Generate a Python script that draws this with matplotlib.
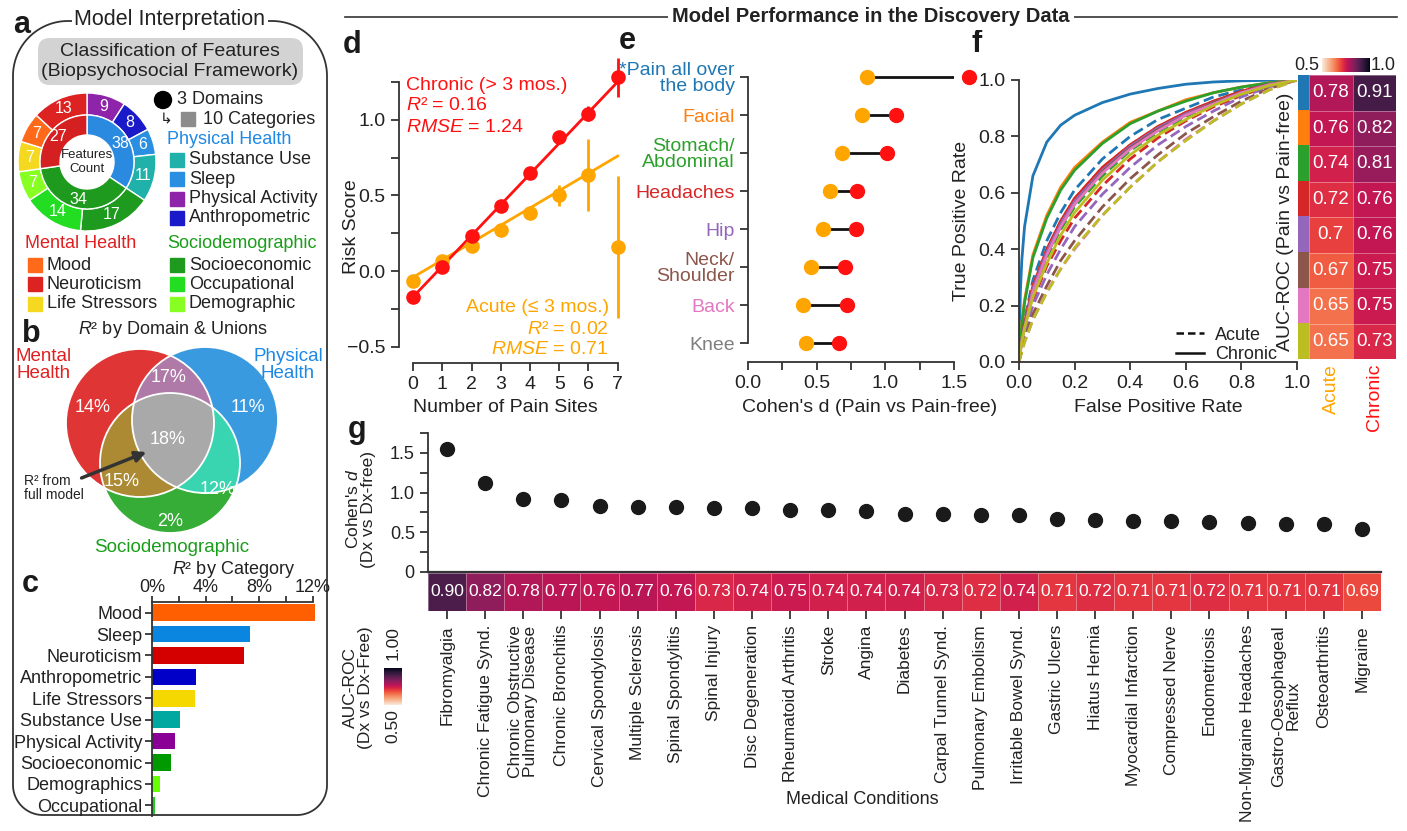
import numpy as np
import matplotlib
matplotlib.use('Agg')
import matplotlib.pyplot as plt
import seaborn as sns
from matplotlib import font_manager
from matplotlib.patches import Circle, Rectangle, FancyBboxPatch, Polygon
from matplotlib.lines import Line2D
from matplotlib.colors import Normalize, ListedColormap
from matplotlib.cm import ScalarMappable
from matplotlib.ticker import MultipleLocator

plt.rcParams['font.family'] = ['Liberation Sans', 'DejaVu Sans']
plt.rcParams['mathtext.fontset'] = 'custom'
plt.rcParams['mathtext.rm'] = 'Liberation Sans'
plt.rcParams['mathtext.it'] = 'Liberation Sans:italic'
plt.rcParams['mathtext.bf'] = 'Liberation Sans:bold'
plt.rcParams['axes.facecolor'] = 'none'
plt.rcParams['axes.edgecolor'] = '#333333'
plt.rcParams['axes.linewidth'] = 1.3
for k in ['text.color', 'axes.labelcolor', 'xtick.color', 'ytick.color']:
    plt.rcParams[k] = '#222222'
for k in ['xtick', 'ytick']:
    plt.rcParams[k + '.major.size'] = 6
    plt.rcParams[k + '.minor.size'] = 6
    plt.rcParams[k + '.major.width'] = 1.2
    plt.rcParams[k + '.minor.width'] = 1.2

# ---------------- data ----------------
# a: feature counts (outer ring clockwise from 12 o'clock)
cat_ring_names = ['Physical Activity', 'Anthropometric', 'Sleep', 'Substance Use',
                  'Socioeconomic', 'Occupational', 'Demographic',
                  'Life Stressors', 'Mood', 'Neuroticism']
cat_ring_counts = [9, 8, 6, 11, 17, 14, 7, 7, 7, 13]
cat_ring_domain = [0, 0, 0, 0, 1, 1, 1, 2, 2, 2]
domain_names = ['Physical Health', 'Sociodemographic', 'Mental Health']
domain_count_labels = ['38', '34', '27']

# b: R2 by domain and unions (%)
venn_regions = ['M', 'P', 'S', 'MP', 'MS', 'PS', 'MPS']
venn_values = [14, 11, 2, 17, 15, 12, 18]

# c: R2 by category (%)
cat_names = ['Mood', 'Sleep', 'Neuroticism', 'Anthropometric', 'Life Stressors',
             'Substance Use', 'Physical Activity', 'Socioeconomic', 'Demographics',
             'Occupational']
cat_r2 = [12.17, 7.28, 6.88, 3.30, 3.20, 2.11, 1.69, 1.42, 0.62, 0.20]

# d: risk score by number of pain sites
sites = [0, 1, 2, 3, 4, 5, 6, 7]
chronic_mean = [-0.17, 0.03, 0.23, 0.43, 0.65, 0.885, 1.04, 1.28]
chronic_err = [0.02, 0.02, 0.02, 0.02, 0.02, 0.025, 0.05, 0.13]
acute_mean = [-0.065, 0.065, 0.165, 0.275, 0.385, 0.50, 0.635, 0.16]
acute_err = [0.02, 0.02, 0.02, 0.02, 0.03, 0.067, 0.235, 0.47]
chronic_fit = [-0.17, 1.25]
acute_fit = [-0.04, 0.76]

# e: Cohen's d by pain site
site_names = ['*Pain all over\nthe body', 'Facial', 'Stomach/\nAbdominal', 'Headaches',
              'Hip', 'Neck/\nShoulder', 'Back', 'Knee']
site_label_colors = ['#1f77b4', '#ff7f0e', '#2ca02c', '#d62728', '#9467bd',
                     '#8c564b', '#e377c2', '#7f7f7f']
site_d_acute = [0.865, 0.827, 0.687, 0.598, 0.549, 0.457, 0.397, 0.419]
site_d_chronic = [1.606, 1.077, 1.009, 0.791, 0.789, 0.709, 0.719, 0.665]

# f: ROC curves and AUCs
roc_colors = ['#1f77b4', '#ff7f0e', '#2ca02c', '#d62728', '#9467bd',
              '#8c564b', '#e377c2', '#bcbd22']
roc_fpr = [0, 0.005, 0.01, 0.02, 0.05, 0.1, 0.15, 0.2, 0.3, 0.4, 0.5, 0.6, 0.7, 0.8, 0.9, 1.0]
roc_chronic = [
    [0, 0.25, 0.36, 0.48, 0.66, 0.78, 0.84, 0.875, 0.92, 0.95, 0.97, 0.985, 0.993, 0.997, 0.999, 1],
    [0, 0.08, 0.14, 0.22, 0.38, 0.52, 0.62, 0.69, 0.78, 0.85, 0.89, 0.93, 0.955, 0.975, 0.99, 1],
    [0, 0.08, 0.13, 0.21, 0.37, 0.51, 0.61, 0.68, 0.775, 0.845, 0.89, 0.925, 0.955, 0.975, 0.99, 1],
    [0, 0.05, 0.08, 0.14, 0.27, 0.40, 0.50, 0.58, 0.69, 0.77, 0.835, 0.885, 0.925, 0.96, 0.985, 1],
    [0, 0.04, 0.08, 0.13, 0.26, 0.39, 0.49, 0.57, 0.68, 0.765, 0.83, 0.88, 0.92, 0.955, 0.985, 1],
    [0, 0.04, 0.07, 0.13, 0.25, 0.38, 0.48, 0.56, 0.675, 0.76, 0.825, 0.875, 0.92, 0.955, 0.983, 1],
    [0, 0.04, 0.07, 0.12, 0.25, 0.38, 0.48, 0.56, 0.67, 0.755, 0.82, 0.875, 0.915, 0.955, 0.983, 1],
    [0, 0.04, 0.07, 0.12, 0.23, 0.35, 0.45, 0.53, 0.645, 0.735, 0.805, 0.86, 0.91, 0.95, 0.98, 1],
]
roc_acute = [
    [0, 0.05, 0.09, 0.15, 0.29, 0.43, 0.53, 0.61, 0.72, 0.80, 0.86, 0.90, 0.94, 0.965, 0.988, 1],
    [0, 0.05, 0.08, 0.14, 0.27, 0.40, 0.50, 0.58, 0.69, 0.77, 0.835, 0.885, 0.925, 0.96, 0.985, 1],
    [0, 0.04, 0.07, 0.13, 0.25, 0.37, 0.47, 0.55, 0.66, 0.75, 0.815, 0.87, 0.915, 0.95, 0.98, 1],
    [0, 0.03, 0.06, 0.11, 0.22, 0.34, 0.43, 0.51, 0.625, 0.72, 0.795, 0.855, 0.905, 0.945, 0.978, 1],
    [0, 0.03, 0.05, 0.10, 0.20, 0.31, 0.40, 0.48, 0.595, 0.69, 0.77, 0.835, 0.89, 0.94, 0.975, 1],
    [0, 0.02, 0.04, 0.08, 0.17, 0.27, 0.36, 0.43, 0.55, 0.65, 0.735, 0.81, 0.87, 0.925, 0.97, 1],
    [0, 0.02, 0.04, 0.07, 0.15, 0.25, 0.33, 0.40, 0.52, 0.62, 0.71, 0.79, 0.855, 0.915, 0.965, 1],
    [0, 0.02, 0.035, 0.07, 0.15, 0.245, 0.33, 0.405, 0.52, 0.62, 0.71, 0.785, 0.855, 0.915, 0.965, 1],
]
auc_acute = [0.78, 0.76, 0.74, 0.72, 0.70, 0.67, 0.65, 0.65]
auc_chronic = [0.91, 0.82, 0.81, 0.76, 0.76, 0.75, 0.75, 0.73]

# g: medical conditions
cond_names = ['Fibromyalgia', 'Chronic Fatigue Synd.', 'Chronic Obstructive\nPulmonary Disease',
              'Chronic Bronchitis', 'Cervical Spondylosis', 'Multiple Sclerosis',
              'Spinal Spondylitis', 'Spinal Injury', 'Disc Degeneration',
              'Rheumatoid Arthritis', 'Stroke', 'Angina', 'Diabetes', 'Carpal Tunnel Synd.',
              'Pulmonary Embolism', 'Irritable Bowel Synd.', 'Gastric Ulcers', 'Hiatus Hernia',
              'Myocardial Infarction', 'Compressed Nerve', 'Endometriosis',
              'Non-Migraine Headaches', 'Gastro-Oesophageal\nReflux', 'Osteoarthritis', 'Migraine']
cond_d = [1.545, 1.12, 0.915, 0.907, 0.831, 0.815, 0.815, 0.81, 0.802, 0.78, 0.777, 0.764,
          0.735, 0.73, 0.714, 0.714, 0.667, 0.655, 0.646, 0.638, 0.634, 0.621, 0.609, 0.609, 0.546]
cond_auc = [0.90, 0.82, 0.78, 0.77, 0.76, 0.77, 0.76, 0.73, 0.74, 0.75, 0.74, 0.74, 0.74,
            0.73, 0.72, 0.74, 0.71, 0.72, 0.71, 0.71, 0.72, 0.71, 0.71, 0.71, 0.69]

# ---------------- styles ----------------
cat_colors = {'Mood': '#ff5f00', 'Sleep': '#0a85e0', 'Neuroticism': '#d40000',
              'Anthropometric': '#0000c8', 'Life Stressors': '#f5d800',
              'Substance Use': '#00a8a0', 'Physical Activity': '#8a0096',
              'Socioeconomic': '#009a00', 'Demographics': '#66ff00', 'Demographic': '#88ff22',
              'Occupational': '#22cc22'}
ring_colors = {'Physical Activity': '#8e24aa', 'Anthropometric': '#1a1ac8', 'Sleep': '#2a8fe0',
               'Substance Use': '#20b2aa', 'Socioeconomic': '#1e9a1e', 'Occupational': '#22dd22',
               'Demographic': '#88ff22', 'Life Stressors': '#f5d820', 'Mood': '#ff6a1a',
               'Neuroticism': '#dd2222'}
domain_colors = ['#2a8ae0', '#1e9a1e', '#d42020']
domain_text_colors = ['#1e88e5', '#1a9e1a', '#e02020']
RED = '#ff1111'
ORANGE = '#ffa500'
rocket = sns.color_palette('rocket_r', as_cmap=True)

names = {f.name for f in font_manager.fontManager.ttflist}
narrow = 'Liberation Sans Narrow' in names

W, H = 1407, 831
fig = plt.figure(figsize=(W / 100, H / 100), dpi=100)


def px_axes(x0, y0, x1, y1):
    return fig.add_axes([x0 / W, 1 - y1 / H, (x1 - x0) / W, (y1 - y0) / H])


ov = px_axes(0, 0, W, H)
ov.set_xlim(0, W)
ov.set_ylim(H, 0)
ov.axis('off')

# panel letters
for lab, x, y in [('a', 13, 33), ('b', 22, 342), ('c', 22, 592), ('d', 343, 53),
                  ('e', 619, 49), ('f', 972, 52), ('g', 348, 438)]:
    ov.text(x, y, lab, fontsize=22, fontweight='bold', va='baseline', ha='left', color='#1a1a1a')

# ---------- panel a frame ----------
def rounded_outline(x0, y0, x1, y1, rt, rb):
    pts = []
    for cx, cy, r, a0 in [(x1 - rt, y0 + rt, rt, 270), (x1 - rb, y1 - rb, rb, 0),
                          (x0 + rb, y1 - rb, rb, 90), (x0 + rt, y0 + rt, rt, 180)]:
        t = np.radians(np.linspace(a0, a0 + 90, 40))
        pts.append(np.column_stack([cx + r * np.cos(t), cy + r * np.sin(t)]))
    return Polygon(np.vstack(pts), closed=True, fill=False, edgecolor='#333333', lw=1.3)


ov.add_patch(rounded_outline(13, 21, 327, 815, 55, 30))
ov.text(170, 20, 'Model Interpretation', fontsize=15.5, ha='center', va='center',
        bbox=dict(facecolor='white', edgecolor='none', pad=2))
ov.add_patch(FancyBboxPatch((38, 38), 265, 47, boxstyle='round,pad=0,rounding_size=12',
                            facecolor='#d3d3d3', edgecolor='none'))
ov.text(170, 52, 'Classification of Features', fontsize=14, ha='center', va='center')
ov.text(170, 71, '(Biopsychosocial Framework)', fontsize=14, ha='center', va='center')

# donut
axa = px_axes(87 - 74, 162 - 74, 87 + 74, 162 + 74)
R_OUT, R_MID, R_IN = 1.0, 47 / 69, 27 / 69
w_out, _ = axa.pie(cat_ring_counts, radius=R_OUT, startangle=90, counterclock=False,
                   colors=[ring_colors[n] for n in cat_ring_names],
                   wedgeprops=dict(width=R_OUT - R_MID, edgecolor='white', linewidth=1))
domain_sizes = [sum(c for c, d in zip(cat_ring_counts, cat_ring_domain) if d == i) for i in range(3)]
w_in, _ = axa.pie(domain_sizes, radius=R_MID, startangle=90, counterclock=False,
                  colors=domain_colors,
                  wedgeprops=dict(width=R_MID - R_IN, edgecolor='white', linewidth=1))
for w, c in zip(w_out, cat_ring_counts):
    a = np.radians((w.theta1 + w.theta2) / 2)
    rr = (R_OUT + R_MID) / 2
    axa.text(rr * np.cos(a), rr * np.sin(a), str(c), color='white', fontsize=11.5,
             ha='center', va='center')
for w, lab in zip(w_in, domain_count_labels):
    a = np.radians((w.theta1 + w.theta2) / 2)
    rr = (R_MID + R_IN) / 2 + 0.02
    axa.text(rr * np.cos(a), rr * np.sin(a), lab, color='white', fontsize=11.5,
             ha='center', va='center')
axa.text(0, 0, 'Features\nCount', fontsize=9.5, ha='center', va='center', linespacing=1.3)
axa.set_xlim(-74 / 69, 74 / 69)
axa.set_ylim(-74 / 69, 74 / 69)
axa.set_aspect('equal')
axa.axis('off')

# legend of domains / categories
ov.add_patch(Circle((163, 100), 8.5, color='black'))
ov.text(177, 100, '3 Domains', fontsize=13, va='center')
ov.text(160, 119, '\u21b3', fontsize=11, va='center', family=['DejaVu Sans'])
ov.add_patch(Rectangle((181, 112), 14, 14, color='#8c8c8c'))
ov.text(203, 119, '10 Categories', fontsize=13, va='center')
legend_blocks = [(167, 139, 0, ['Substance Use', 'Sleep', 'Physical Activity', 'Anthropometric']),
                 (25, 244, 2, ['Mood', 'Neuroticism', 'Life Stressors']),
                 (167, 244, 1, ['Socioeconomic', 'Occupational', 'Demographic'])]
for x, y, di, items in legend_blocks:
    ov.text(x, y, domain_names[di], fontsize=13, va='center', color=domain_text_colors[di])
    for k, nm in enumerate(items):
        yy = y + 21 + k * 19.3
        ov.add_patch(Rectangle((x + 3, yy - 7), 14, 14, color=ring_colors[nm]))
        ov.text(x + 22, yy, nm, fontsize=13, va='center')

# ---------- panel b: venn ----------
ov.text(173, 329, r'$R$² by Domain & Unions', fontsize=13, ha='center', va='center')
venn_circles = [(140, 423, 74), (205, 420, 73), (170, 463, 70)]   # M, P, S
venn_colors = {'M': '#e03535', 'P': '#3a9ae0', 'S': '#36ad36', 'MP': '#b07aa8',
               'MS': '#ab8a33', 'PS': '#38d5b0', 'MPS': '#a9a9a9'}
venn_label_pos = {'M': (93, 408), 'P': (248, 408), 'S': (170, 521), 'MP': (169, 377),
                  'MS': (122, 482), 'PS': (218, 490), 'MPS': (168, 440)}
key = {'M': 0, 'P': 1, 'S': 2}


def region_polygon(idx):
    pts = []
    t = np.linspace(0, 2 * np.pi, 900)
    for i in idx:
        cx, cy, r = venn_circles[i]
        p = np.column_stack([cx + r * np.cos(t), cy + r * np.sin(t)])
        ok = np.ones(len(p), bool)
        for j in idx:
            if j != i:
                cx2, cy2, r2 = venn_circles[j]
                ok &= (p[:, 0] - cx2) ** 2 + (p[:, 1] - cy2) ** 2 <= r2 ** 2
        pts.append(p[ok])
    pts = np.vstack(pts)
    c = pts.mean(axis=0)
    return pts[np.argsort(np.arctan2(pts[:, 1] - c[1], pts[:, 0] - c[0]))]


for reg in venn_regions:
    idx = [key[ch] for ch in reg]
    if len(idx) == 1:
        cx, cy, r = venn_circles[idx[0]]
        ov.add_patch(Circle((cx, cy), r, facecolor=venn_colors[reg], edgecolor='none'))
    else:
        ov.add_patch(Polygon(region_polygon(idx), closed=True, facecolor=venn_colors[reg],
                             edgecolor='none'))
for cx, cy, r in venn_circles:
    ov.add_patch(Circle((cx, cy), r, fill=False, edgecolor='white', lw=1.3))
for reg, v in zip(venn_regions, venn_values):
    x, y = venn_label_pos[reg]
    ov.text(x, y, f'{v}%', color='white', fontsize=13, ha='center', va='center')
ov.text(44, 365, 'Mental\nHealth', color='#e02020', fontsize=13.5, ha='center', va='center',
        linespacing=1.0)
ov.text(288, 365, 'Physical\nHealth', color='#1e88e5', fontsize=13.5, ha='center', va='center',
        linespacing=1.0)
ov.text(172, 548, 'Sociodemographic', color='#1a9e1a', fontsize=13.5, ha='center', va='center')
ov.text(24, 488, 'R² from\nfull model', fontsize=10, ha='left', va='center', linespacing=1.05)
ov.annotate('', xy=(149, 451), xytext=(79, 479),
            arrowprops=dict(arrowstyle='-|>', color='#333333', lw=2.5, mutation_scale=16))

# ---------- panel c ----------
axc = px_axes(152, 602, 317, 816)
yc = np.arange(len(cat_names))
axc.barh(yc, cat_r2, height=0.78, color=[cat_colors[n] for n in cat_names])
axc.set_ylim(len(cat_names) - 0.5, -0.5)
axc.set_xlim(0, 12.3)
axc.xaxis.tick_top()
axc.set_xticks([0, 4, 8, 12], ['0%', '4%', '8%', '12%'])
axc.set_xticks([2, 6, 10], minor=True)
axc.set_yticks(yc, cat_names)
axc.spines['top'].set_bounds(0, 12)
axc.spines['right'].set_visible(False)
axc.spines['bottom'].set_visible(False)
axc.tick_params(which='both', labelsize=13)
axc.tick_params(axis='x', which='both', length=4, pad=0.5)
axc.tick_params(axis='y', length=5, pad=2)
ov.text(234, 570, r'$R$² by Category', fontsize=13, ha='center', va='center')

# ---------- top title ----------
ov.plot([345, 1397], [17, 17], color='#333333', lw=1.2)
if narrow:
    ov.text(871, 16, 'Model Performance in the Discovery Data', fontsize=17.5, fontweight='bold',
            family=['Liberation Sans Narrow'], ha='center', va='center',
            bbox=dict(facecolor='white', edgecolor='none', pad=3))
else:
    ov.text(871, 16, 'Model Performance in the Discovery Data', fontsize=14.5, fontweight='bold',
            ha='center', va='center', bbox=dict(facecolor='white', edgecolor='none', pad=3))

# ---------- panel d ----------
axd = px_axes(399, 55, 625, 363)
axd.plot([sites[0], sites[-1]], chronic_fit, color=RED, lw=2, zorder=2)
axd.plot([sites[0], sites[-1]], acute_fit, color=ORANGE, lw=2, zorder=1)
axd.errorbar(sites, acute_mean, yerr=acute_err, fmt='o', color=ORANGE, ms=9.5, elinewidth=2,
             capsize=0, zorder=3)
axd.errorbar(sites, chronic_mean, yerr=chronic_err, fmt='o', color=RED, ms=9.5, elinewidth=2,
             capsize=0, zorder=4, clip_on=False)
axd.set_xlim(-0.48, 7.25)
axd.set_ylim(-0.606, 1.427)
axd.set_xticks(sites)
axd.set_yticks([-0.5, 0, 0.5, 1.0], ['\u22120.5', '0.0', '0.5', '1.0'])
axd.set_yticks([-0.25, 0.25, 0.75, 1.25], minor=True)
axd.spines['left'].set_bounds(-0.5, 1.25)
axd.spines['bottom'].set_bounds(0, 7)
axd.spines['top'].set_visible(False)
axd.spines['right'].set_visible(False)
axd.tick_params(which='both', labelsize=14)
ov.text(351, 227, 'Risk Score', fontsize=14, rotation=90, ha='center', va='center')
ov.text(505, 407, 'Number of Pain Sites', fontsize=14, ha='center', va='center')
ov.text(406, 85, 'Chronic (> 3 mos.)', color=RED, fontsize=14, va='center')
ov.text(406, 106, r'$R$² = 0.16', color=RED, fontsize=14, va='center')
ov.text(406, 127, r'$RMSE$ = 1.24', color=RED, fontsize=14, va='center')
ov.text(609, 308, 'Acute (\u2264 3 mos.)', color=ORANGE, fontsize=14, va='center', ha='right')
ov.text(609, 329, r'$R$² = 0.02', color=ORANGE, fontsize=14, va='center', ha='right')
ov.text(609, 349, r'$RMSE$ = 0.71', color=ORANGE, fontsize=14, va='center', ha='right')

# ---------- panel e ----------
axe = px_axes(748, 58, 954, 362)
ye = np.arange(len(site_names))
for i in ye:
    axe.plot([site_d_acute[i], site_d_chronic[i]], [i, i], color='#111111', lw=2, zorder=1)
axe.plot(site_d_acute, ye, 'o', color=ORANGE, ms=10, zorder=3, clip_on=False)
axe.plot(site_d_chronic, ye, 'o', color=RED, ms=10, zorder=3, clip_on=False)
axe.set_xlim(0, 1.5)
axe.set_ylim(len(site_names) - 0.5, -0.5)
axe.set_xticks([0, 0.5, 1.0, 1.5], ['0.0', '0.5', '1.0', '1.5'])
axe.xaxis.set_minor_locator(MultipleLocator(0.25))
axe.set_yticks(ye, site_names)
for t, c in zip(axe.get_yticklabels(), site_label_colors):
    t.set_color(c)
    t.set_linespacing(0.95)
axe.spines['left'].set_bounds(0, len(site_names) - 1)
axe.spines['bottom'].set_bounds(0, 1.5)
axe.spines['top'].set_visible(False)
axe.spines['right'].set_visible(False)
axe.tick_params(which='both', labelsize=14)
ov.text(870, 407, "Cohen's d (Pain vs Pain-free)", fontsize=14, ha='center', va='center')

# ---------- panel f ----------
axf = px_axes(1019, 80, 1297, 362)
for i, c in enumerate(roc_colors):
    axf.plot(roc_fpr, roc_acute[i], color=c, lw=2, dashes=(3.8, 1.8))
for i, c in enumerate(roc_colors):
    axf.plot(roc_fpr, roc_chronic[i], color=c, lw=2)
axf.set_xlim(0, 1)
axf.set_ylim(0, 1)
ticks = [0, 0.2, 0.4, 0.6, 0.8, 1.0]
axf.set_xticks(ticks, [f'{t:.1f}' for t in ticks])
axf.set_yticks(ticks, [f'{t:.1f}' for t in ticks])
axf.spines['top'].set_visible(False)
axf.spines['right'].set_visible(False)
axf.tick_params(labelsize=14)
handles = [Line2D([], [], color='#111111', lw=1.8, dashes=(3, 1.6)),
           Line2D([], [], color='#111111', lw=1.8)]
axf.legend(handles, ['Acute', 'Chronic'], loc='lower right', bbox_to_anchor=(0.955, -0.03),
           frameon=False, fontsize=13, handlelength=1.6, handletextpad=0.6,
           labelspacing=0.15, borderaxespad=0)
ov.text(961, 221, 'True Positive Rate', fontsize=14, rotation=90, ha='center', va='center')
ov.text(1158, 407, 'False Positive Rate', fontsize=14, ha='center', va='center')

axfs = px_axes(1298, 75, 1309, 359)
axfs.imshow(np.arange(len(roc_colors))[:, None], cmap=ListedColormap(roc_colors), aspect='auto')
axfs.axis('off')
axfh = px_axes(1309, 75, 1396, 359)
sns.heatmap(np.column_stack([auc_acute, auc_chronic]), ax=axfh, cmap=rocket, vmin=0.5, vmax=1.0,
            annot=True, fmt='g', annot_kws=dict(color='white', fontsize=13.5), cbar=False,
            linewidths=0.6, linecolor=(1, 1, 1, 0.35), xticklabels=False, yticklabels=False)
cax = px_axes(1322, 58, 1370, 72)
cb = fig.colorbar(ScalarMappable(norm=Normalize(0.5, 1.0), cmap=rocket), cax=cax,
                  orientation='horizontal')
cb.set_ticks([])
cb.outline.set_visible(False)
ov.text(1319, 65, '0.5', fontsize=13, ha='right', va='center')
ov.text(1371, 65, '1.0', fontsize=13, ha='left', va='center')
ov.text(1286, 222, 'AUC-ROC (Pain vs Pain-free)', fontsize=14, rotation=90, ha='center',
        va='center')
ov.text(1331, 364, 'Acute', color=ORANGE, fontsize=14, rotation=90, ha='center', va='top')
ov.text(1374, 364, 'Chronic', color=RED, fontsize=14, rotation=90, ha='center', va='top')

# ---------- panel g ----------
axg = px_axes(428, 430, 1381, 572)
xg = np.arange(len(cond_names))
axg.plot(xg, cond_d, 'o', color='#1a1a1a', ms=10)
axg.set_xlim(-0.5, len(cond_names) - 0.5)
axg.set_ylim(0, 1.788)
axg.set_xticks([])
axg.set_yticks([0, 0.5, 1.0, 1.5], ['0', '0.5', '1.0', '1.5'])
axg.yaxis.set_minor_locator(MultipleLocator(0.25))
axg.spines['left'].set_bounds(0, 1.75)
axg.spines['top'].set_visible(False)
axg.spines['right'].set_visible(False)
axg.spines['bottom'].set_linewidth(1.6)
axg.tick_params(which='both', labelsize=13)
ov.text(361, 509, "Cohen's $d$\n(Dx vs Dx-free)", fontsize=12.5, rotation=90, ha='center',
        va='center', linespacing=1.0)

axgh = px_axes(428, 573, 1381, 611)
sns.heatmap(np.array([cond_auc]), ax=axgh, cmap=rocket, vmin=0.5, vmax=1.0, annot=True, fmt='.2f',
            annot_kws=dict(color='white', fontsize=12.5), cbar=False, linewidths=0.6,
            linecolor=(1, 1, 1, 0.35), xticklabels=cond_names, yticklabels=False)
axgh.set_xticklabels(cond_names, rotation=90, fontsize=12.5, linespacing=1.0)
axgh.tick_params(axis='x', length=6, width=1.2, pad=4)
gcax = px_axes(384, 668, 402, 705)
gcb = fig.colorbar(ScalarMappable(norm=Normalize(0.5, 1.0), cmap=rocket), cax=gcax,
                   orientation='vertical')
gcb.set_ticks([])
gcb.outline.set_visible(False)
ov.text(393, 643, '1.00', fontsize=12.5, rotation=90, ha='center', va='center')
ov.text(393, 726, '0.50', fontsize=12.5, rotation=90, ha='center', va='center')
ov.text(358, 688, 'AUC-ROC\n(Dx vs Dx-Free)', fontsize=12.5, rotation=90, ha='center',
        va='center', linespacing=1.0)
ov.text(862, 800, 'Medical Conditions', fontsize=13, ha='center', va='center')

fig.savefig('out.png', dpi=100)
